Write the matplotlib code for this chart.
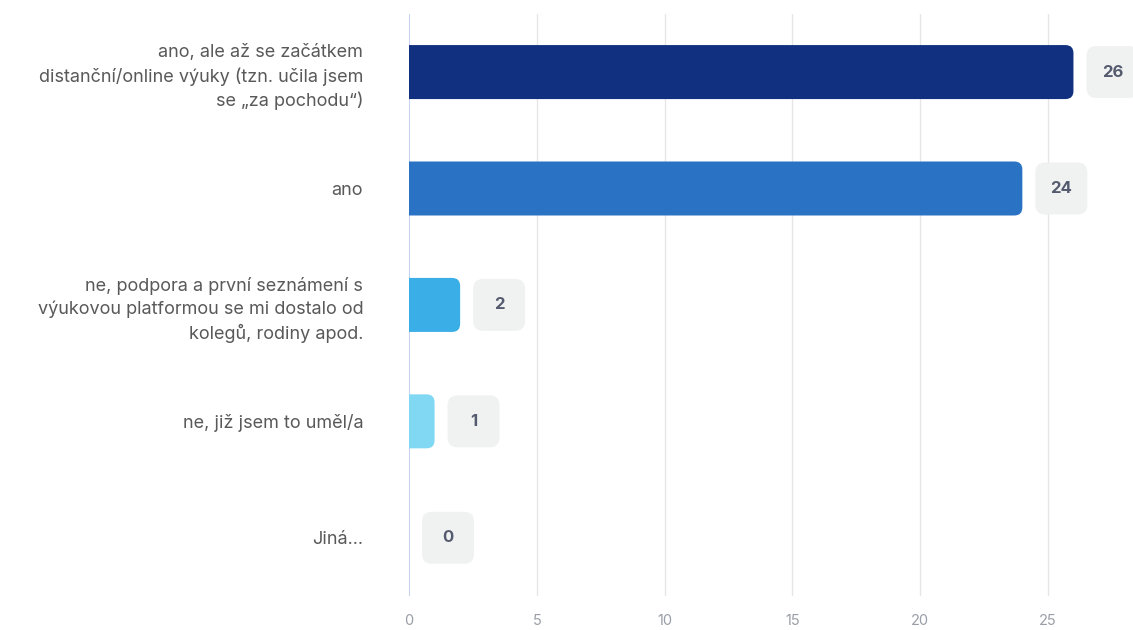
import matplotlib.pyplot as plt
from matplotlib.patches import FancyBboxPatch
from matplotlib.transforms import ScaledTranslation

plt.rcParams['font.family'] = ['Inter', 'DejaVu Sans']

categories = [
    "ano, ale až se začátkem\ndistanční/online výuky (tzn. učila jsem\nse „za pochodu“)",
    "ano",
    "ne, podpora a první seznámení s\nvýukovou platformou se mi dostalo od\nkolegů, rodiny apod.",
    "ne, již jsem to uměl/a",
    "Jiná...",
]
counts = [26, 24, 2, 1, 0]
colors = ["#11307f", "#2a72c4", "#3aaee6", "#80d8f3", "#c4ecf8"]
xticks = [0, 5, 10, 15, 20, 25]

fig = plt.figure(figsize=(11.33, 6.3), dpi=100)
ax = fig.add_axes([0.361, 0.054, 0.639, 0.924])
ax.set_xlim(0, 28.33)
ax.set_ylim(len(categories) - 0.5, -0.5)
fig.canvas.draw()


def data_width_in(v):
    # width of v data units along x, in inches
    x0 = ax.transData.transform((0, 0))[0]
    x1 = ax.transData.transform((v, 0))[0]
    return (x1 - x0) / fig.dpi


bar_h = 0.54   # inches
r = 0.08

for i, (v, c) in enumerate(zip(counts, colors)):
    tr = fig.dpi_scale_trans + ScaledTranslation(0, i, ax.transData)
    w = data_width_in(v)
    if v > 0:
        # start left of the axis so the clip at x=0 leaves a square end
        ax.add_patch(FancyBboxPatch(
            (-0.2, -bar_h / 2), w + 0.2, bar_h,
            boxstyle=f"round,pad=0,rounding_size={r}",
            facecolor=c, edgecolor="none", transform=tr, zorder=3))

    # value badge a fixed distance after the bar end
    tb = fig.dpi_scale_trans + ScaledTranslation(v, i, ax.transData)
    ax.add_patch(FancyBboxPatch(
        (0.13, -0.26), 0.52, 0.52,
        boxstyle="round,pad=0,rounding_size=0.1",
        facecolor="#f0f1f1", edgecolor="none",
        transform=tb, clip_on=False, zorder=4))
    ax.text(0.39, 0.0, str(v), transform=tb, ha="center", va="center",
            fontsize=12, fontweight="bold", color="#555b6e", zorder=5)

ax.set_yticks(range(len(categories)))
ax.set_yticklabels(categories, fontsize=13, color="#595959", linespacing=1.42)
ax.set_xticks(xticks)
ax.set_xticklabels([str(t) for t in xticks], fontsize=10.5, color="#999ea6")
ax.tick_params(axis="both", length=0)
ax.tick_params(axis="y", pad=33)
ax.tick_params(axis="x", pad=13)

for t in xticks:
    if t == 0:
        ax.axvline(t, color="#c8d3ec", lw=1.5, zorder=2)
    else:
        ax.axvline(t, color="#e6e6e6", lw=1, zorder=1)

for s in ax.spines.values():
    s.set_visible(False)

fig.savefig("out.png", dpi=100)
